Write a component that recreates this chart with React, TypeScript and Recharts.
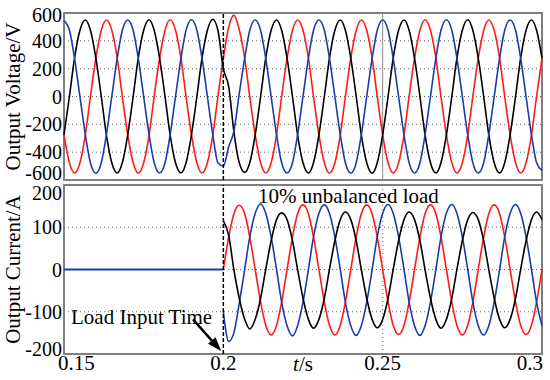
import { LineChart, Line, XAxis, YAxis, CartesianGrid, ReferenceLine, ReferenceArea, ReferenceDot } from 'recharts';

// sample times (s), one every 1/600 s
const tSec = [
  0.15, 0.1517, 0.1533, 0.155, 0.1567, 0.1583, 0.16, 0.1617, 0.1633, 0.165, 0.1667, 0.1683,
  0.17, 0.1717, 0.1733, 0.175, 0.1767, 0.1783, 0.18, 0.1817, 0.1833, 0.185, 0.1867, 0.1883,
  0.19, 0.1917, 0.1933, 0.195, 0.1967, 0.1983, 0.2, 0.2017, 0.2033, 0.205, 0.2067, 0.2083,
  0.21, 0.2117, 0.2133, 0.215, 0.2167, 0.2183, 0.22, 0.2217, 0.2233, 0.225, 0.2267, 0.2283,
  0.23, 0.2317, 0.2333, 0.235, 0.2367, 0.2383, 0.24, 0.2417, 0.2433, 0.245, 0.2467, 0.2483,
  0.25, 0.2517, 0.2533, 0.255, 0.2567, 0.2583, 0.26, 0.2617, 0.2633, 0.265, 0.2667, 0.2683,
  0.27, 0.2717, 0.2733, 0.275, 0.2767, 0.2783, 0.28, 0.2817, 0.2833, 0.285, 0.2867, 0.2883,
  0.29, 0.2917, 0.2933, 0.295, 0.2967, 0.2983, 0.3,
];

const voltBlue = [
  545, 476, 275, 0, -275, -476, -552, -476, -275, 0, 275, 476,
  550, 476, 275, 0, -275, -476, -550, -476, -275, 0, 275, 476,
  552, 476, 275, 0, -275, -476, -500, -360, -250, 20, 275, 476,
  550, 476, 275, 0, -275, -476, -550, -476, -275, 0, 275, 476,
  550, 476, 275, 0, -275, -476, -552, -476, -275, 0, 275, 476,
  550, 476, 275, 0, -275, -476, -550, -476, -275, 0, 275, 476,
  552, 476, 275, 0, -275, -476, -550, -476, -275, 0, 275, 476,
  550, 476, 275, 0, -275, -476, -530,
];

const voltBlack = [
  -275, 0, 275, 476, 550, 476, 275, 0, -275, -476, -550, -476,
  -275, 0, 275, 476, 552, 476, 275, 0, -275, -476, -550, -476,
  -275, 0, 275, 476, 555, 476, 200, 70, -250, -476, -545, -476,
  -275, 0, 275, 476, 550, 476, 275, 0, -275, -476, -550, -476,
  -275, 0, 275, 476, 550, 476, 275, 0, -275, -476, -552, -476,
  -275, 0, 275, 476, 550, 476, 275, 0, -275, -476, -550, -476,
  -275, 0, 275, 476, 552, 476, 275, 0, -275, -476, -550, -476,
  -275, 0, 275, 476, 550, 476, 275,
];

const voltRed = [
  -275, -476, -550, -476, -275, 0, 275, 476, 550, 476, 275, 0,
  -275, -476, -552, -476, -275, 0, 275, 476, 552, 476, 275, 0,
  -275, -476, -550, -476, -275, 0, 275, 500, 585, 480, 275, 0,
  -275, -476, -550, -476, -275, 0, 275, 476, 550, 476, 275, 0,
  -275, -476, -552, -476, -275, 0, 275, 476, 550, 476, 275, 0,
  -275, -476, -550, -476, -275, 0, 275, 476, 552, 476, 275, 0,
  -275, -476, -550, -476, -275, 0, 275, 476, 550, 476, 275, 0,
  -275, -476, -550, -476, -275, 0, 275,
];

// load switched in at t = 0.2 s (sample 30); currents below start there
const loadStart = 30;

const curBlack = [
  115, 80, 0, -68, -118, -141, -118, -68, 0, 68, 118, 134,
  118, 68, 0, -68, -118, -139, -118, -68, 0, 68, 118, 136,
  118, 68, 0, -68, -118, -138, -118, -68, 0, 68, 118, 136,
  118, 68, 0, -68, -118, -139, -118, -68, 0, 68, 118, 135,
  118, 68, 0, -68, -118, -138, -118, -68, 0, 68, 118, 136,
  118,
];

const curRed = [
  0, 77, 132, 152, 132, 77, 0, -77, -132, -155, -132, -77,
  0, 77, 132, 153, 132, 77, 0, -77, -132, -155, -132, -77,
  0, 77, 132, 153, 132, 77, 0, -77, -132, -154, -132, -77,
  0, 77, 132, 153, 132, 77, 0, -77, -132, -155, -132, -77,
  0, 77, 132, 153, 132, 77, 0, -77, -132, -154, -132, -77,
  0,
];

const curBlue = [
  -100, -170, -150, -80, 0, 77, 133, 155, 133, 77, 0, -77,
  -133, -157, -133, -77, 0, 77, 133, 153, 133, 77, 0, -77,
  -133, -156, -133, -77, 0, 77, 133, 154, 133, 77, 0, -77,
  -133, -156, -133, -77, 0, 77, 133, 154, 133, 77, 0, -77,
  -133, -155, -133, -77, 0, 77, 133, 154, 133, 77, 0, -77,
  -133,
];

const voltTicks = [-600, -400, -200, 0, 200, 400, 600];
const curTicks = [-200, -100, 0, 100, 200];
const timeTicks = [0.15, 0.2, 0.25, 0.3];

const voltData = tSec.map((t, i) => ({ t, blue: voltBlue[i], black: voltBlack[i], red: voltRed[i] }));
const curData = tSec.map((t, i) => ({
  t,
  pre: i <= loadStart ? 0 : null,
  black: i >= loadStart ? curBlack[i - loadStart] : null,
  red: i >= loadStart ? curRed[i - loadStart] : null,
  blue: i >= loadStart ? curBlue[i - loadStart] : null,
}));

const FONT = '"Liberation Serif", "Times New Roman", serif';
const RED = '#ff1a1a';
const BLUE = '#1a3ca8';
const FRAME = '#7f7f7f';

const yLabel = (text: string) => (p: any) => {
  const vb = p.viewBox;
  const x = 20;
  const y = vb.y + vb.height / 2;
  return (
    <text x={x} y={y} transform={`rotate(-90 ${x} ${y})`} textAnchor="middle" fontSize={21} fontFamily={FONT} fill="#000">
      {text}
    </text>
  );
};

// edge labels sit a little inside the frame, as in the original figure
const makeYTick = (ticks: number[], topShift: number, bottomShift: number) => (p: any) => {
  const v = p.payload.value;
  let dy = 7;
  if (v === ticks[ticks.length - 1]) dy += topShift;
  if (v === ticks[0]) dy -= bottomShift;
  return (
    <text x={p.x} y={p.y + dy} textAnchor="end" fontSize={20} fontFamily={FONT} fill="#000">
      {v}
    </text>
  );
};
const VoltTick = makeYTick(voltTicks, 2, 7);
const CurTick = makeYTick(curTicks, 8, 5);

const XTick = (p: any) => {
  const v = p.payload.value;
  let anchor = 'middle';
  let dx = 0;
  if (v === timeTicks[0]) { anchor = 'start'; dx = -6; }
  if (v === timeTicks[timeTicks.length - 1]) { anchor = 'end'; dx = 1; }
  return (
    <text x={p.x + dx} y={p.y + 16} textAnchor={anchor} fontSize={21} fontFamily={FONT} fill="#000">
      {v}
    </text>
  );
};

const Arrow = (p: any) => {
  const { x1, y1, x2, y2 } = p;
  const ang = Math.atan2(y2 - y1, x2 - x1);
  const len = 14;
  const half = 5;
  const bx = x2 - len * Math.cos(ang);
  const by = y2 - len * Math.sin(ang);
  const nx = -Math.sin(ang) * half;
  const ny = Math.cos(ang) * half;
  return (
    <g>
      <line x1={x1} y1={y1} x2={bx} y2={by} stroke="#000" strokeWidth={2.5} />
      <polygon points={`${x2},${y2} ${bx + nx},${by + ny} ${bx - nx},${by - ny}`} fill="#000" />
    </g>
  );
};

export default function App() {
  return (
    <div style={{ position: 'absolute', left: 0, top: 0, width: 550, height: 380, background: '#fff', fontFamily: FONT }}>
      <div style={{ position: 'absolute', left: 0, top: 0 }}>
        <LineChart width={550} height={192} data={voltData} margin={{ top: 13, right: 8, bottom: 12, left: 0 }}>
          <CartesianGrid vertical={false} stroke="#666" strokeDasharray="1 3" />
          <XAxis dataKey="t" type="number" domain={[0.15, 0.3]} ticks={timeTicks} hide />
          <YAxis
            type="number"
            domain={[-600, 600]}
            ticks={voltTicks}
            interval={0}
            width={64}
            tickSize={0}
            tickMargin={2}
            axisLine={false}
            tick={<VoltTick />}
            label={{ content: yLabel('Output Voltage/V') }}
          />
          <ReferenceLine x={0.25} stroke="#888" strokeWidth={1} />
          <Line type="monotone" dataKey="red" stroke={RED} strokeWidth={1.6} dot={false} isAnimationActive={false} />
          <Line type="monotone" dataKey="black" stroke="#000" strokeWidth={1.6} dot={false} isAnimationActive={false} />
          <Line type="monotone" dataKey="blue" stroke={BLUE} strokeWidth={1.6} dot={false} isAnimationActive={false} />
          <ReferenceLine x={0.2} stroke="#000" strokeWidth={1.5} strokeDasharray="4 2" />
          <ReferenceArea x1={0.15} x2={0.3} y1={-600} y2={600} fill="none" stroke={FRAME} strokeWidth={2} />
        </LineChart>
      </div>
      <div style={{ position: 'absolute', left: 0, top: 172 }}>
        <LineChart width={550} height={208} data={curData} margin={{ top: 13, right: 8, bottom: 0, left: 0 }}>
          <CartesianGrid vertical={false} stroke="#666" strokeDasharray="1 3" />
          <XAxis
            dataKey="t"
            type="number"
            domain={[0.15, 0.3]}
            ticks={timeTicks}
            interval={0}
            height={26}
            tickSize={0}
            tickMargin={0}
            axisLine={false}
            tick={<XTick />}
            label={{
              content: (p: any) => {
                const vb = p.viewBox;
                return (
                  <text x={vb.x + vb.width / 2} y={vb.y + 17} textAnchor="middle" fontSize={21} fontFamily={FONT} fill="#000">
                    <tspan fontStyle="italic">t</tspan>/s
                  </text>
                );
              },
            }}
          />
          <YAxis
            type="number"
            domain={[-200, 200]}
            ticks={curTicks}
            interval={0}
            width={64}
            tickSize={0}
            tickMargin={2}
            axisLine={false}
            tick={<CurTick />}
            label={{ content: yLabel('Output Current/A') }}
          />
          <ReferenceLine x={0.25} stroke="#666" strokeDasharray="1 3" />
          <Line type="linear" dataKey="pre" stroke={BLUE} strokeWidth={1.8} dot={false} isAnimationActive={false} />
          <Line type="monotone" dataKey="red" stroke={RED} strokeWidth={1.6} dot={false} isAnimationActive={false} />
          <Line type="monotone" dataKey="blue" stroke={BLUE} strokeWidth={1.6} dot={false} isAnimationActive={false} />
          <Line type="monotone" dataKey="black" stroke="#000" strokeWidth={1.6} dot={false} isAnimationActive={false} />
          <ReferenceLine x={0.2} stroke="#000" strokeWidth={1.5} strokeDasharray="4 2" />
          <ReferenceLine segment={[{ x: 0.1905, y: -118 }, { x: 0.1993, y: -193 }]} shape={<Arrow />} />
          <ReferenceDot
            x={0.1522}
            y={-129}
            r={0}
            shape={(p: any) => (
              <text x={p.cx} y={p.cy} fontSize={21} fontFamily={FONT} fill="#000">Load Input Time</text>
            )}
          />
          <ReferenceDot
            x={0.2109}
            y={158}
            r={0}
            shape={(p: any) => (
              <text x={p.cx} y={p.cy} fontSize={21} fontFamily={FONT} fill="#000">10% unbalanced load</text>
            )}
          />
          <ReferenceArea x1={0.15} x2={0.3} y1={-200} y2={200} fill="none" stroke={FRAME} strokeWidth={2} />
        </LineChart>
      </div>
    </div>
  );
}
